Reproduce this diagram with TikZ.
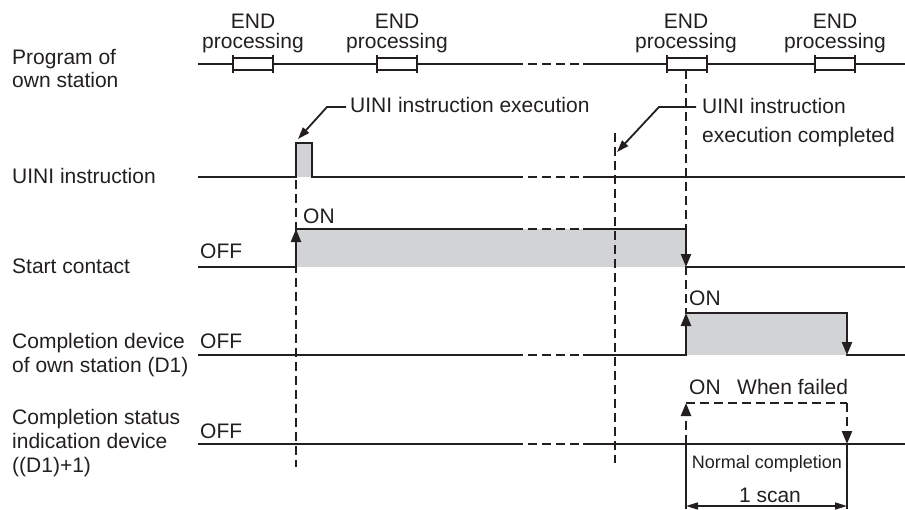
\documentclass[tikz,border=0pt]{standalone}
\usepackage{fontspec}
\setmainfont{Liberation Sans}
\usetikzlibrary{arrows.meta}
\definecolor{fillgray}{RGB}{209,211,212}
\definecolor{ink}{RGB}{35,31,32}
\begin{document}
\begin{tikzpicture}[x=1pt,y=-1pt, color=ink,
  sig/.style={line width=2.4pt, line cap=rect, line join=miter},
  edge/.style={line width=2.4pt, -{Triangle[length=13pt,width=10pt]}},
  brk/.style={line width=2.4pt, dash pattern=on 9pt off 5pt},
  dsig/.style={line width=2.4pt, dash pattern=on 9pt off 5pt},
  guide/.style={line width=1.5pt, dash pattern=on 9pt off 5pt},
  lead/.style={line width=1.8pt, -{Triangle[length=12pt,width=8pt]}},
  boxline/.style={line width=1.8pt},
  lbl/.style={font=\fontsize{21}{24}\selectfont, inner sep=0pt, text=ink},
  smalllbl/.style={font=\fontsize{18}{21}\selectfont, inner sep=0pt, text=ink},
]
\useasboundingbox (0,0) rectangle (905,509);

% ---------- fills ----------
\fill[fillgray] (296,143) rectangle (312,177);
\fill[fillgray] (296,229) rectangle (686,267);
\fill[fillgray] (686,313) rectangle (847,355);

% ---------- guide lines ----------
\coordinate (g1t) at (296,180); \coordinate (g1b) at (296,467);
\coordinate (g2t) at (615,133); \coordinate (g2b) at (615,463);
\coordinate (g3t) at (686,70);  \coordinate (g3b) at (686,313);
\draw[guide] (g1t) -- (g1b);
\draw[guide] (g2t) -- (g2b);
\draw[guide] (g3t) -- (g3b);

% ---------- program of own station ----------
\draw[sig] (199,64) -- (522,64);
\draw[brk] (528,64) -- (579,64);
\draw[sig] (584,64) -- (905,64);
\foreach \bx in {233,377,667,815}{
  \draw[boxline,fill=white] (\bx,58) rectangle ({\bx+40},70);
  \draw[boxline] (\bx,55) -- (\bx,73);
  \draw[boxline] ({\bx+40},55) -- ({\bx+40},73);
}
\node[lbl,anchor=base] (end1) at (253,28) {END};
\node[lbl,anchor=base] (proc1) at (253,48) {processing};
\node[lbl,anchor=base] (end2) at (397,28) {END};
\node[lbl,anchor=base] (proc2) at (397,48) {processing};
\node[lbl,anchor=base] (end3) at (686,28) {END};
\node[lbl,anchor=base] (proc3) at (686,48) {processing};
\node[lbl,anchor=base] (end4) at (835,28) {END};
\node[lbl,anchor=base] (proc4) at (835,48) {processing};

% ---------- UINI instruction ----------
\draw[sig] (199,177) -- (296,177) -- (296,143) -- (312,143) -- (312,177) -- (522,177);
\draw[brk] (528,177) -- (579,177);
\draw[sig] (584,177) -- (905,177);

% ---------- Start contact ----------
\draw[sig] (199,267) -- (296,267);
\draw[sig] (296,229) -- (522,229);
\draw[brk] (528,229) -- (579,229);
\draw[sig] (584,229) -- (686,229);
\draw[sig] (686,267) -- (905,267);
\coordinate (sc1) at (296,267); \coordinate (sc2) at (296,229);
\coordinate (sc3) at (686,229); \coordinate (sc4) at (686,267);
\draw[edge] (sc1) -- (sc2);
\draw[edge] (sc3) -- (sc4);

% ---------- Completion device (D1) ----------
\draw[sig] (199,355) -- (522,355);
\draw[brk] (528,355) -- (579,355);
\draw[sig] (584,355) -- (686,355);
\draw[sig] (686,313) -- (847,313);
\draw[sig] (847,355) -- (905,355);
\coordinate (d1) at (686,355); \coordinate (d2) at (686,313);
\coordinate (d3) at (847,313); \coordinate (d4) at (847,355);
\draw[edge] (d1) -- (d2);
\draw[edge] (d3) -- (d4);

% ---------- Completion status ----------
\draw[sig] (199,444) -- (522,444);
\draw[brk] (528,444) -- (579,444);
\draw[sig] (584,444) -- (905,444);
\coordinate (s1) at (686,444); \coordinate (s2) at (686,403);
\coordinate (s3) at (847,403); \coordinate (s4) at (847,444);
\draw[dsig,-{Triangle[length=13pt,width=10pt]}] (s1) -- (s2);
\draw[dsig] (s2) -- (s3);
\draw[dsig,-{Triangle[length=13pt,width=10pt]}] (s3) -- (s4);

% ---------- scan dimension ----------
\coordinate (n1t) at (686,444); \coordinate (n1b) at (686,509);
\coordinate (n2t) at (847,444); \coordinate (n2b) at (847,509);
\draw[boxline] (n1t) -- (n1b);
\draw[boxline] (n2t) -- (n2b);
\coordinate (dm1) at (686,506); \coordinate (dm2) at (847,506);
\draw[line width=1.5pt, {Triangle[length=12pt,width=7pt]}-{Triangle[length=12pt,width=7pt]}] (dm1) -- (dm2);
\node[smalllbl,anchor=base] (norm) at (767,468) {Normal completion};
\node[lbl,anchor=base] (scan) at (770,502) {1 scan};

% ---------- leaders ----------
\node[lbl,anchor=base west] (exe) at (350,112) {UINI instruction execution};
\coordinate (l1a) at (346,107); \coordinate (l1b) at (327,107); \coordinate (l1c) at (298,139);
\draw[lead] (l1a) -- (l1b) -- (l1c);
\node[lbl,anchor=base west] (cmp1) at (702,113) {UINI instruction};
\node[lbl,anchor=base west] (cmp2) at (702,142) {execution completed};
\coordinate (l2a) at (696,107); \coordinate (l2b) at (659,107); \coordinate (l2c) at (617,152);
\draw[lead] (l2a) -- (l2b) -- (l2c);

% ---------- state labels ----------
\node[lbl,anchor=base west] (off1) at (200,258) {OFF};
\node[lbl,anchor=base west] (on1) at (303,223) {ON};
\node[lbl,anchor=base west] (off2) at (200,348) {OFF};
\node[lbl,anchor=base west] (on2) at (689,305) {ON};
\node[lbl,anchor=base west] (off3) at (200,438) {OFF};
\node[lbl,anchor=base west] (on3) at (689,394) {ON};
\node[lbl,anchor=base west] (fail) at (737,394) {When failed};

% ---------- row labels ----------
\node[lbl,anchor=base west] (r1a) at (12,64) {Program of};
\node[lbl,anchor=base west] (r1b) at (12,87) {own station};
\node[lbl,anchor=base west] (r2) at (12,183) {UINI instruction};
\node[lbl,anchor=base west] (r3) at (12,273) {Start contact};
\node[lbl,anchor=base west] (r4a) at (12,348) {Completion device};
\node[lbl,anchor=base west] (r4b) at (12,372) {of own station (D1)};
\node[lbl,anchor=base west] (r5a) at (12,424) {Completion status};
\node[lbl,anchor=base west] (r5b) at (12,448) {indication device};
\node[lbl,anchor=base west] (r5c) at (12,472) {((D1)+1)};
\end{tikzpicture}
\end{document}
